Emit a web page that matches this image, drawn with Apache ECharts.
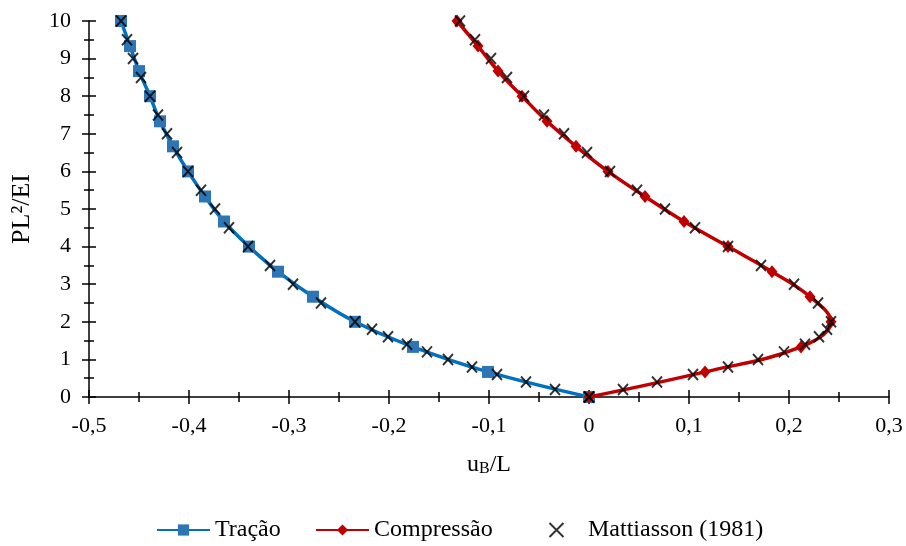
<!DOCTYPE html>
<html>
<head>
<meta charset="utf-8">
<script src="https://cdn.jsdelivr.net/npm/echarts@6/dist/echarts.min.js"></script>
<style>
  html, body { margin: 0; padding: 0; background: #fff; }
  #chart { width: 906px; height: 546px; }
</style>
</head>
<body>
<div id="chart"></div>
<script>
// load levels PL²/EI where the model curves have markers
var loadSteps = [0, 0.667, 1.333, 2, 2.667, 3.333, 4, 4.667, 5.333, 6, 6.667, 7.333, 8, 8.667, 9.333, 10];
// uB/L, tension
var tracaoU = [0, -0.101, -0.176, -0.234, -0.276, -0.311, -0.340, -0.365, -0.384, -0.401, -0.416, -0.429, -0.439, -0.450, -0.459, -0.468];
// uB/L, compression
var compressaoU = [0, 0.116, 0.212, 0.242, 0.221, 0.183, 0.139, 0.095, 0.056, 0.019, -0.013, -0.042, -0.067, -0.091, -0.111, -0.132];

// Mattiasson (1981) reference points
var mattLoad = [0, 0.2, 0.4, 0.6, 0.8, 1.0, 1.2, 1.4, 1.6, 1.8, 2.0, 2.5, 3.0, 3.5, 4.0, 4.5, 5.0, 5.5, 6.0, 6.5, 7.0, 7.5, 8.0, 8.5, 9.0, 9.5, 10];
var mattTracao = [0, -0.034, -0.063, -0.092, -0.117, -0.141, -0.162, -0.182, -0.201, -0.217, -0.234, -0.268, -0.296, -0.319, -0.341, -0.360, -0.374, -0.388, -0.401, -0.412, -0.422, -0.431, -0.439, -0.448, -0.456, -0.462, -0.468];
var mattCompressao = [0, 0.034, 0.068, 0.104, 0.139, 0.169, 0.195, 0.216, 0.230, 0.238, 0.242, 0.229, 0.205, 0.172, 0.139, 0.106, 0.076, 0.048, 0.021, -0.002, -0.025, -0.045, -0.065, -0.082, -0.098, -0.114, -0.129];

var xTicks = { min: -0.5, max: 0.3, interval: 0.1 };
var yTicks = { min: 0, max: 10, interval: 1 };

function pairs(xs, ys) {
    return xs.map(function (x, i) { return [x, ys[i]]; });
}

var serif = 'Liberation Serif';
var crossMark = 'path://M0,0L10,10M10,0L0,10';

var chart = echarts.init(document.getElementById('chart'), null, { renderer: 'canvas' });

function xFmt(v) {
    var r = Math.round(v * 10) / 10;
    return String(r).replace('.', ',');
}

var lineStyleAxis = { color: '#000', width: 1.5 };
var legendText = { fontFamily: serif, fontSize: 24, color: '#000' };

// one legend per entry so every item sits where the original has it
function legendAt(left, name) {
    return {
        left: left,
        bottom: 4,
        padding: 0,
        itemWidth: 53,
        itemHeight: 14,
        itemGap: 5,
        textStyle: legendText,
        data: [name]
    };
}

var option = {
    backgroundColor: '#fff',
    animation: false,
    textStyle: { fontFamily: serif },
    grid: { left: 89, right: 17, top: 21, bottom: 149 },
    legend: [
        legendAt(156, 'Tração'),
        legendAt(315, 'Compressão'),
        legendAt(547, 'Mattiasson (1981)')
    ],
    xAxis: [{
        type: 'value',
        position: 'bottom',
        min: xTicks.min, max: xTicks.max, interval: xTicks.interval,
        name: '{u|u}{sub|B}{u|/L}',
        nameLocation: 'middle',
        nameGap: 54,
        nameTextStyle: {
            rich: {
                u: { fontFamily: serif, fontSize: 24, color: '#000', verticalAlign: 'bottom', lineHeight: 26 },
                sub: { fontFamily: serif, fontSize: 16, color: '#000', verticalAlign: 'bottom', lineHeight: 22 }
            }
        },
        axisLine: { onZero: false, lineStyle: lineStyleAxis },
        axisTick: { length: 7, lineStyle: lineStyleAxis },
        minorTick: { show: true, splitNumber: 2, length: 5, lineStyle: lineStyleAxis },
        splitLine: { show: false },
        axisLabel: { fontFamily: serif, fontSize: 22, color: '#000', margin: 18, formatter: xFmt }
    }, {
        type: 'value',
        position: 'bottom',
        min: xTicks.min, max: xTicks.max, interval: xTicks.interval,
        axisLine: { show: false, onZero: false },
        axisTick: { inside: true, length: 7, lineStyle: lineStyleAxis },
        minorTick: { show: true, splitNumber: 2, length: 5, lineStyle: lineStyleAxis },
        splitLine: { show: false },
        axisLabel: { show: false }
    }],
    yAxis: [{
        type: 'value',
        position: 'left',
        min: yTicks.min, max: yTicks.max, interval: yTicks.interval,
        name: 'PL²/EI',
        nameLocation: 'middle',
        nameGap: 54,
        nameTextStyle: { fontFamily: serif, fontSize: 26, color: '#000' },
        axisLine: { show: true, onZero: false, lineStyle: lineStyleAxis },
        axisTick: { show: true, length: 7, lineStyle: lineStyleAxis },
        minorTick: { show: true, splitNumber: 2, length: 5, lineStyle: lineStyleAxis },
        splitLine: { show: false },
        axisLabel: { fontFamily: serif, fontSize: 22, color: '#000', margin: 18 }
    }, {
        type: 'value',
        position: 'left',
        min: yTicks.min, max: yTicks.max, interval: yTicks.interval,
        axisLine: { show: false, onZero: false },
        axisTick: { show: true, inside: true, length: 7, lineStyle: lineStyleAxis },
        minorTick: { show: true, splitNumber: 2, length: 5, lineStyle: lineStyleAxis },
        splitLine: { show: false },
        axisLabel: { show: false }
    }],
    series: [{
        name: 'Tração',
        type: 'line',
        smooth: 0.4,
        clip: false,
        data: pairs(tracaoU, loadSteps),
        symbol: 'rect',
        symbolSize: 12,
        lineStyle: { color: '#0070C0', width: 3.5 },
        itemStyle: { color: '#2E75B6' },
        z: 2
    }, {
        name: 'Compressão',
        type: 'line',
        smooth: 0.4,
        clip: false,
        data: pairs(compressaoU, loadSteps),
        symbol: 'diamond',
        symbolSize: [11, 13],
        lineStyle: { color: '#C00000', width: 3.5 },
        itemStyle: { color: '#C00000' },
        z: 3
    }, {
        name: 'Mattiasson (1981)',
        type: 'scatter',
        clip: false,
        data: pairs(mattTracao, mattLoad).concat(pairs(mattCompressao, mattLoad)),
        symbol: crossMark,
        symbolSize: [10, 11],
        symbolKeepAspect: true,
        itemStyle: { color: 'none', borderColor: '#000', borderWidth: 2 },
        z: 5
    }]
};

chart.setOption(option);
</script>
</body>
</html>
